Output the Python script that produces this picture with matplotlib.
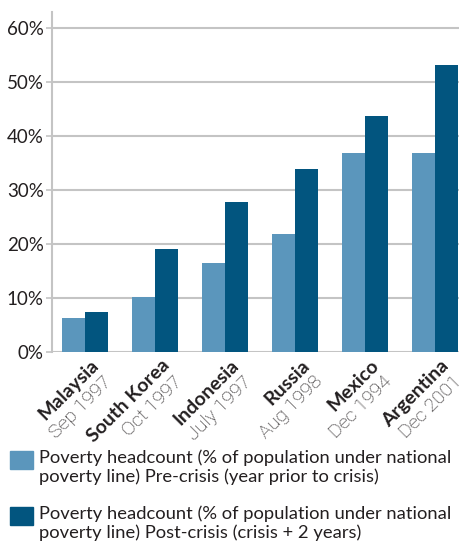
import matplotlib.pyplot as plt
import numpy as np
from matplotlib.patches import Rectangle

plt.rcParams["font.family"] = ["Lato", "DejaVu Sans"]

countries = ["Malaysia", "South Korea", "Indonesia", "Russia", "Mexico", "Argentina"]
dates = ["Sep 1997", "Oct 1997", "July 1997", "Aug 1998", "Dec 1994", "Dec 2001"]
pre_crisis = [6.3, 10.1, 16.4, 21.8, 36.9, 36.9]
post_crisis = [7.4, 19.0, 27.7, 33.8, 43.7, 53.1]
yticks = [0, 10, 20, 30, 40, 50, 60]

PRE_COLOR = "#5b96bc"
POST_COLOR = "#02557f"
TEXT_COLOR = "#231f20"
GRID_COLOR = "#c4c4c4"

fig = plt.figure(figsize=(4.59, 5.49), dpi=100)
ax = fig.add_axes([0.1133, 0.3588, 0.8867, 0.619])

x = np.arange(len(countries))
width = 0.33
ax.bar(x - width / 2, pre_crisis, width, color=PRE_COLOR, zorder=3)
ax.bar(x + width / 2, post_crisis, width, color=POST_COLOR, zorder=3)

ax.set_xlim(-0.471, 5.343)
ax.set_ylim(0, 62.9)
ax.set_yticks(yticks)
ax.set_yticklabels([f"{v}%" for v in yticks], fontsize=13.5, color=TEXT_COLOR)
ax.yaxis.grid(True, color=GRID_COLOR, linewidth=1.5, zorder=0)
ax.tick_params(axis="y", length=4, width=1.2, color=GRID_COLOR, pad=2)
ax.set_xticks([])

for side in ["top", "right", "bottom"]:
    ax.spines[side].set_visible(False)
ax.spines["left"].set_color(GRID_COLOR)
ax.spines["left"].set_linewidth(1.5)

# two-line rotated category labels: bold country, light date
for i, (name, date) in enumerate(zip(countries, dates)):
    ax.annotate(name, xy=(i, 0), xycoords="data", xytext=(11, -10.5),
                textcoords="offset points", rotation=45, rotation_mode="anchor",
                ha="right", va="baseline", fontsize=14, fontweight="bold",
                color=TEXT_COLOR, annotation_clip=False)
    ax.annotate(date, xy=(i, 0), xycoords="data", xytext=(20, -22),
                textcoords="offset points", rotation=45, rotation_mode="anchor",
                ha="right", va="baseline", fontsize=14, fontweight="light",
                family=["Roboto", "DejaVu Sans"],
                color=TEXT_COLOR, annotation_clip=False)

# legend drawn by hand
W, H = 459, 549
legend_items = [
    (PRE_COLOR, "Poverty headcount (% of population under national\npoverty line) Pre-crisis (year prior to crisis)", 451),
    (POST_COLOR, "Poverty headcount (% of population under national\npoverty line) Post-crisis (crisis + 2 years)", 507),
]
for color, label, top in legend_items:
    fig.patches.append(Rectangle((10 / W, 1 - (top + 18) / H), 23 / W, 18 / H,
                                 transform=fig.transFigure, color=color))
    fig.text(39 / W, 1 - (top - 2) / H, label, ha="left", va="top",
             fontsize=13.2, color=TEXT_COLOR, linespacing=1.22)

fig.savefig("out.png", dpi=100)
